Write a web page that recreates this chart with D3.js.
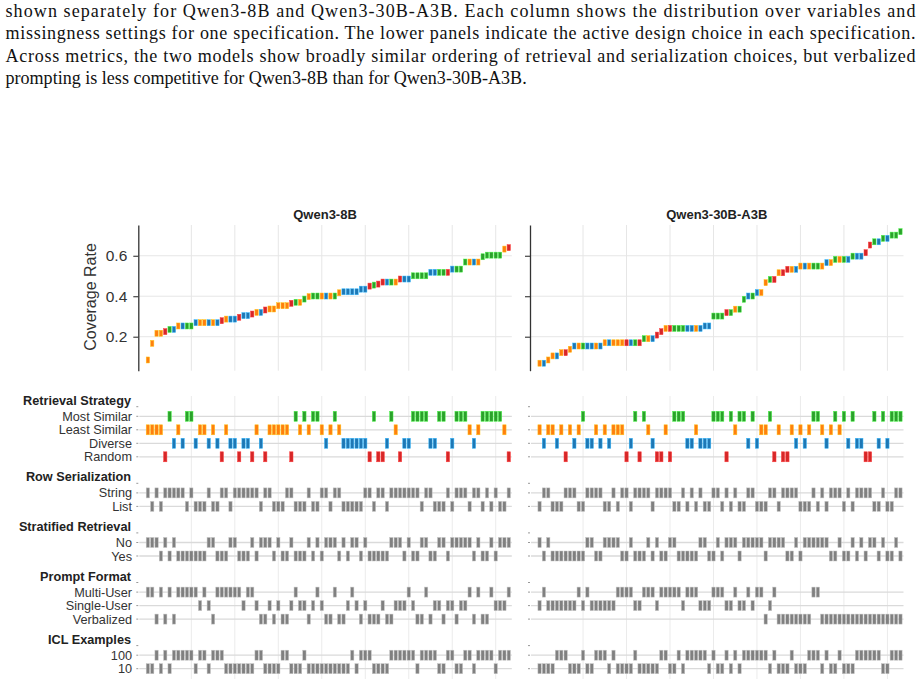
<!DOCTYPE html>
<html>
<head>
<meta charset="utf-8">
<script src="https://cdnjs.cloudflare.com/ajax/libs/d3/7.8.5/d3.min.js"></script>
<style>
body { margin: 0; background: #fff; }
svg { display: block; }
</style>
</head>
<body>
<svg id="svg1" width="923" height="687"></svg>
<script>
// ---- data -------------------------------------------------------------
var models = ['Qwen3-8B', 'Qwen3-30B-A3B'];

var caption = [
    'shown separately for Qwen3-8B and Qwen3-30B-A3B. Each column shows the distribution over variables and',
    'missingness settings for one specification. The lower panels indicate the active design choice in each specification.',
    'Across metrics, the two models show broadly similar ordering of retrieval and serialization choices, but verbalized',
    'prompting is less competitive for Qwen3-8B than for Qwen3-30B-A3B.'
];

var yTicks = [0.2, 0.4, 0.6];
var xGridTicks = [10, 20, 30, 40, 50, 60, 70, 80];

var groupTitles = ['Retrieval Strategy', 'Row Serialization', 'Stratified Retrieval', 'Prompt Format', 'ICL Examples'];
var groupLabels = [
    ['Most Similar', 'Least Similar', 'Diverse', 'Random'],
    ['String', 'List'],
    ['No', 'Yes'],
    ['Multi-User', 'Single-User', 'Verbalized'],
    ['100', '10']
];
var groupCodes = [
    ['M', 'L', 'D', 'R'],
    ['S', 'L'],
    ['N', 'Y'],
    ['M', 'S', 'V'],
    ['H', 'T']
];
var strategyColors = ['#2ca02c', '#ff7f0e', '#1f77b4', '#d62728'];

// specifications sorted by coverage rate (one column each)
var coverage8B = [0.085, 0.167, 0.217, 0.217, 0.225, 0.236, 0.236, 0.253, 0.253, 0.253,
    0.253, 0.269, 0.269, 0.269, 0.269, 0.269, 0.269, 0.279, 0.287, 0.287,
    0.287, 0.296, 0.304, 0.304, 0.312, 0.320, 0.320, 0.332, 0.337, 0.337,
    0.353, 0.353, 0.353, 0.365, 0.370, 0.370, 0.386, 0.398, 0.401, 0.401,
    0.401, 0.401, 0.401, 0.401, 0.417, 0.422, 0.422, 0.422, 0.422, 0.435,
    0.435, 0.450, 0.455, 0.460, 0.470, 0.470, 0.470, 0.470, 0.485, 0.485,
    0.485, 0.501, 0.501, 0.501, 0.501, 0.518, 0.518, 0.518, 0.518, 0.518,
    0.534, 0.534, 0.534, 0.569, 0.569, 0.569, 0.569, 0.595, 0.603, 0.603,
    0.603, 0.603, 0.633, 0.640];
var retrieval8B = ('LLLLRMDLDMMDLLDLDRLDD' + 'RDDRLDRLLLLLRMLMLMMLD' + 'LMLDDDDDDRMRRDMLRDDMM' + 'MMDDMMRDMMMLDLMMMMMLR').split('');
var serial8B    = ('SLSLSSSSSLSLLLSLLSSLS' + 'SSSSSLSSLLLSSLLLSLLSS' + 'LSSLLLLLSSLSSLSSSSSSS' + 'LSSLLLSLSSSLSSLSLSLLS').split('');
var strat8B     = ('NNNYNYNYYYYYYYNNYYYNN' + 'YYYNYNNNYNYYNYYYNYNYN' + 'NNYNYNNYNYYYYYNNNYNYY' + 'NNYYNNYNNNNNYNYYNYNNN').split('');
var prompt8B    = ('MMVMVMVMMMMMSMSVMMMMM' + 'MSMMSVVSVSVVSMSSVSMSV' + 'VMVVSMSVSVVVSVVSSSMSV' + 'VMVSSVSSVSSMVMVVMSSSM').split('');
var icl8B       = ('TTHTHTHHHHHTHHTHHHTTT' + 'TTTTHHTTTTHHTTTHTTTTT' + 'TTTTTHTHHHTTTTHHHHHHT' + 'HHHHTTHHTTHHTHHHHTHHH').split('');

var coverage30B = [0.069, 0.069, 0.085, 0.105, 0.105, 0.121, 0.121, 0.138, 0.154, 0.154,
    0.154, 0.154, 0.154, 0.154, 0.154, 0.170, 0.170, 0.170, 0.170, 0.170,
    0.170, 0.170, 0.170, 0.170, 0.190, 0.190, 0.190, 0.208, 0.225, 0.241,
    0.241, 0.241, 0.241, 0.241, 0.241, 0.241, 0.241, 0.241, 0.253, 0.253,
    0.302, 0.302, 0.302, 0.319, 0.319, 0.336, 0.336, 0.385, 0.401, 0.401,
    0.418, 0.418, 0.467, 0.483, 0.483, 0.516, 0.516, 0.533, 0.533, 0.533,
    0.549, 0.549, 0.549, 0.549, 0.549, 0.549, 0.566, 0.566, 0.582, 0.582,
    0.582, 0.582, 0.598, 0.598, 0.598, 0.615, 0.653, 0.669, 0.669, 0.686,
    0.686, 0.702, 0.702, 0.719];
var retrieval30B = ('LDLLDLRLDLMDDLDLDLLLR' + 'DMRMLDRRLRMMMDDLDDDMM' + 'MRMLMMDMDLLMRLRRLDLDL' + 'MMLDLMLMDMDDRRMDMDMMM').split('');
var serial30B    = ('LSSLLLSSSLLSSSSLLSLSS' + 'LSSSSLSSSSLLSLSLSLLSS' + 'LSLSLLSSLLLSSLSSSSLLL' + 'SLSLSSSLSLSSSSLLSLLSS').split('');
var strat30B     = ('NYNYYYYYYYYNNYYNNNNYY' + 'NYYYNYNYYNNYYYYYNNYYN' + 'YNNNYNNNNNYNNNNYYNYNN' + 'NNNNYYNYYNYNYNNYNYYNY').split('');
var prompt30B    = ('SMSSSSSSSMSMSSSSSSMMM' + 'MSSMMMSMMMMMSMMMSSSMM' + 'MSSMSSMSMMVSMVVVVVVVV' + 'MMVVVVVVVVVVVVVVVVVVV').split('');
var icl30B       = ('TTTTHHHTTTHTTHHHTHTTT' + 'THTTTTTHHTTHTHHHHHTHT' + 'THTHTHHHHHHTHTTTHTTTH' + 'HHTHTTHTTTHHHHHHTTHHH').split('');

var coverage = [coverage8B, coverage30B];
var choices = [
    [retrieval8B, serial8B, strat8B, prompt8B, icl8B],
    [retrieval30B, serial30B, strat30B, prompt30B, icl30B]
];

// ---- layout -----------------------------------------------------------
var panelLeft = [138.3, 530];
var panelWidth = 373.5;
var upperTop = 225, upperBottom = 370.7;
var rowStep = 13.5, headerGap = 9.6, groupGap = 26.5, lowerStart = 406.7;
var markW = 3.3;

var sans = 'Liberation Sans, Arial, Helvetica, sans-serif';

var svg = d3.select('#svg1');

// caption text above the figure (serif, slightly condensed like the pdf)
var squeeze = 0.951;
svg.append('g')
    .attr('transform', 'scale(' + squeeze + ',1)')
    .selectAll('text.caption')
    .data(caption)
    .enter()
    .append('text')
    .attr('class', 'caption')
    .attr('x', 5.5 / squeeze)
    .attr('y', function(d, i) { return 16.5 + i * 22.6; })
    .attr('textLength', function(d, i) { return i < 3 ? 910 / squeeze : null; })
    .attr('lengthAdjust', 'spacing')
    .style('font-family', 'Liberation Serif, Times New Roman, serif')
    .style('font-size', '19px')
    .attr('fill', '#111')
    .text(function(d) { return d; });

// y positions of the header and rows of every lower group
var headerY = [], rowY = [];
var cursor = lowerStart;
groupLabels.forEach(function(labels, g) {
    headerY.push(cursor);
    var ys = labels.map(function(l, j) { return cursor + headerGap + j * rowStep; });
    rowY.push(ys);
    cursor = ys[ys.length - 1] + groupGap;
});

var yScale = d3.scaleLinear()
    .domain([0.032, 0.752])
    .range([upperBottom, upperTop]);

models.forEach(function(model, m) {
    var left = panelLeft[m];
    var right = left + panelWidth;

    var xScale = d3.scaleLinear()
        .domain([-2.2, 83.7])
        .range([left, right]);

    var g = svg.append('g');

    //vertical grid lines, upper and lower part
    g.selectAll('line.vgrid')
        .data(xGridTicks)
        .enter()
        .append('line')
        .attr('x1', function(d) { return xScale(d); })
        .attr('x2', function(d) { return xScale(d); })
        .attr('y1', upperTop)
        .attr('y2', upperBottom)
        .attr('stroke', '#e6e6e6')
        .attr('stroke-width', 1);

    g.selectAll('line.vgrid2')
        .data(xGridTicks)
        .enter()
        .append('line')
        .attr('x1', function(d) { return xScale(d); })
        .attr('x2', function(d) { return xScale(d); })
        .attr('y1', 396)
        .attr('y2', 679)
        .attr('stroke', '#ebebeb')
        .attr('stroke-width', 1);

    //horizontal grid lines in upper panel
    g.selectAll('line.hgrid')
        .data(yTicks)
        .enter()
        .append('line')
        .attr('x1', left)
        .attr('x2', right)
        .attr('y1', function(d) { return yScale(d); })
        .attr('y2', function(d) { return yScale(d); })
        .attr('stroke', '#e6e6e6')
        .attr('stroke-width', 1);

    //y axis
    var axis = d3.axisLeft(yScale)
        .tickValues(yTicks)
        .tickSize(5)
        .tickSizeOuter(0)
        .tickPadding(6)
        .tickFormat(m === 0 ? d3.format('.1f') : function() { return ''; });

    var ax = g.append('g')
        .attr('transform', 'translate(' + left + ',0)')
        .call(axis);
    ax.select('.domain').attr('stroke', '#333').attr('stroke-width', 1.3);
    ax.selectAll('.tick line').attr('stroke', '#333').attr('stroke-width', 1.1);
    ax.selectAll('.tick text')
        .style('font-family', sans)
        .style('font-size', '15.5px')
        .attr('fill', '#333');

    //panel title
    g.append('text')
        .attr('x', (left + right) / 2)
        .attr('y', 218.6)
        .attr('text-anchor', 'middle')
        .style('font-family', sans)
        .style('font-size', '13px')
        .style('font-weight', 'bold')
        .attr('fill', '#222')
        .text(model);

    if (m === 0) {
        g.append('text')
            .attr('transform', 'translate(96,297) rotate(-90)')
            .attr('text-anchor', 'middle')
            .style('font-family', sans)
            .style('font-size', '16px')
            .attr('fill', '#333')
            .text('Coverage Rate');
    }

    //coverage markers
    g.selectAll('rect.cov')
        .data(coverage[m])
        .enter()
        .append('rect')
        .attr('x', function(d, i) { return xScale(i) - markW / 2; })
        .attr('y', function(d) { return yScale(d) - 3; })
        .attr('width', markW)
        .attr('height', 6)
        .attr('fill', function(d, i) {
            return strategyColors[groupCodes[0].indexOf(choices[m][0][i])];
        })
        .attr('stroke', function(d, i) {
            return d3.color(strategyColors[groupCodes[0].indexOf(choices[m][0][i])]).brighter(1.2);
        })
        .attr('stroke-width', 0.5);

    //lower design-choice panels
    groupLabels.forEach(function(labels, k) {
        var gg = g.append('g');

        // header tick + text
        gg.append('line')
            .attr('x1', left - 2).attr('x2', left)
            .attr('y1', headerY[k]).attr('y2', headerY[k])
            .attr('stroke', '#999').attr('stroke-width', 1);

        gg.selectAll('line.row')
            .data(labels)
            .enter()
            .append('line')
            .attr('x1', left + 1)
            .attr('x2', right)
            .attr('y1', function(d, j) { return rowY[k][j]; })
            .attr('y2', function(d, j) { return rowY[k][j]; })
            .attr('stroke', '#dadada')
            .attr('stroke-width', 1.3);

        gg.selectAll('line.tick')
            .data(labels)
            .enter()
            .append('line')
            .attr('x1', left - 2)
            .attr('x2', left)
            .attr('y1', function(d, j) { return rowY[k][j]; })
            .attr('y2', function(d, j) { return rowY[k][j]; })
            .attr('stroke', '#999')
            .attr('stroke-width', 1);

        if (m === 0) {
            gg.append('text')
                .attr('x', 131)
                .attr('y', headerY[k] - 2)
                .attr('text-anchor', 'end')
                .style('font-family', sans)
                .style('font-size', '12.7px')
                .style('font-weight', 'bold')
                .attr('fill', '#222')
                .text(groupTitles[k]);

            gg.selectAll('text.lab')
                .data(labels)
                .enter()
                .append('text')
                .attr('x', 132)
                .attr('y', function(d, j) { return rowY[k][j] + 4.5; })
                .attr('text-anchor', 'end')
                .style('font-family', sans)
                .style('font-size', '12.7px')
                .attr('fill', '#333')
                .text(function(d) { return d; });
        }

        gg.selectAll('rect.mark')
            .data(choices[m][k])
            .enter()
            .append('rect')
            .attr('x', function(d, i) { return xScale(i) - markW / 2; })
            .attr('y', function(d) { return rowY[k][groupCodes[k].indexOf(d)] - 5; })
            .attr('width', markW)
            .attr('height', 10)
            .attr('fill', function(d, i) {
                return k === 0 ? strategyColors[groupCodes[0].indexOf(d)] : '#808080';
            })
            .attr('stroke', function(d, i) {
                var c = k === 0 ? strategyColors[groupCodes[0].indexOf(d)] : '#808080';
                return d3.color(c).brighter(1.2);
            })
            .attr('stroke-width', 0.5);
    });
});
</script>
</body>
</html>
